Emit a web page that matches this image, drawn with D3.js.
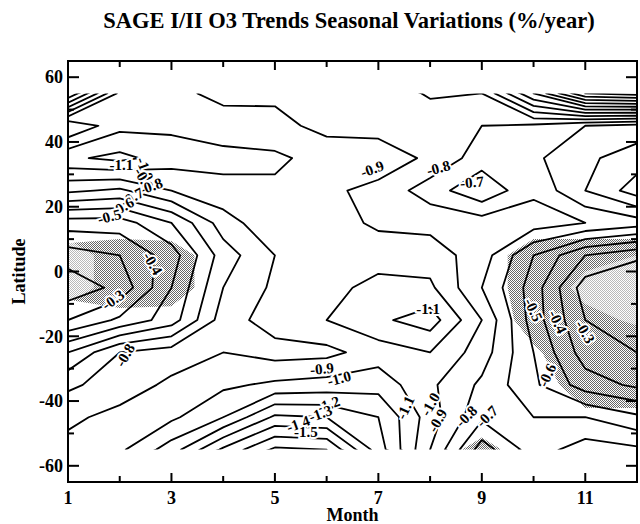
<!DOCTYPE html>
<html>
<head>
<meta charset="utf-8">
<script src="https://cdn.jsdelivr.net/npm/d3@7"></script>
<style>
  body { margin: 0; background: #fff; }
  text { font-family: "Liberation Serif", "Times New Roman", serif; font-weight: bold; }
</style>
</head>
<body>
<div id="chart"></div>
<script>
// grid: rows are latitude bins (north to south), columns are months 1..12
const months = d3.range(1, 13);
const latitudes = [55, 45, 35, 25, 15, 5, -5, -15, -25, -35, -45, -55];

// O3 trend, %/year
const trend = [
  [-1.50, -0.97, -0.93, -0.87, -0.88, -0.85, -0.85, -0.91, -0.90, -1.30, -1.70, -1.75],
  [-0.80, -0.97, -0.98, -0.95, -0.93, -0.87, -0.86, -0.85, -0.80, -0.78, -0.70, -0.66],
  [-1.08, -1.13, -1.05, -1.03, -1.02, -0.96, -0.96, -0.88, -0.75, -0.72, -0.62, -0.55],
  [-0.82, -0.78, -0.90, -0.97, -0.98, -0.92, -0.87, -0.75, -0.62, -0.78, -0.60, -0.45],
  [-0.45, -0.45, -0.60, -0.85, -0.98, -0.95, -0.88, -0.87, -0.85, -0.85, -0.80, -0.75],
  [-0.25, -0.30, -0.45, -0.75, -0.90, -0.98, -0.96, -0.95, -0.85, -0.60, -0.40, -0.32],
  [-0.13, -0.23, -0.50, -0.80, -0.92, -0.97, -1.03, -1.02, -0.80, -0.55, -0.25, -0.20],
  [-0.30, -0.42, -0.55, -0.85, -0.95, -1.00, -1.08, -1.15, -0.90, -0.55, -0.30, -0.25],
  [-0.60, -0.80, -0.85, -0.90, -0.86, -0.87, -0.95, -1.00, -0.85, -0.60, -0.35, -0.30],
  [-0.78, -0.85, -0.92, -0.98, -1.02, -1.04, -1.06, -0.92, -0.78, -0.62, -0.45, -0.38],
  [-0.88, -0.93, -0.98, -1.10, -1.32, -1.30, -1.20, -0.95, -0.72, -0.70, -0.70, -0.62],
  [-0.93, -0.98, -1.15, -1.42, -1.62, -1.60, -1.25, -0.90, -0.55, -0.75, -0.85, -0.82]
];

// stippled areas (1 = shaded)
const shaded = [
  [0, 0, 0, 0, 0, 0, 0, 0, 0, 0, 0, 0],
  [0, 0, 0, 0, 0, 0, 0, 0, 0, 0, 0, 0],
  [0, 0, 0, 0, 0, 0, 0, 0, 0, 0, 0, 0],
  [0, 0, 0, 0, 0, 0, 0, 0, 0, 0, 0, 0],
  [0, 0, 0, 0, 0, 0, 0, 0, 0, 0, 0, 0],
  [0.8, 1, 0.9, 0, 0, 0, 0, 0, 0, 1, 1, 1],
  [0.8, 1, 0.9, 0, 0, 0, 0, 0, 0, 1, 1, 1],
  [0, 0.2, 0.2, 0, 0, 0, 0, 0, 0, 0.8, 1, 1],
  [0, 0, 0, 0, 0, 0, 0, 0, 0, 0.4, 1, 1],
  [0, 0, 0, 0, 0, 0, 0, 0, 0, 0, 1, 1],
  [0, 0, 0, 0, 0, 0, 0, 0, 0, 0, 0.3, 0.3],
  [0, 0, 0, 0, 0, 0, 0, 0, 0.8, 0, 0, 0]
];

// parts of the shaded areas where the stipple is faint
const faint = [
  [0, 0, 0, 0, 0, 0, 0, 0, 0, 0, 0, 0],
  [0, 0, 0, 0, 0, 0, 0, 0, 0, 0, 0, 0],
  [0, 0, 0, 0, 0, 0, 0, 0, 0, 0, 0, 0],
  [0, 0, 0, 0, 0, 0, 0, 0, 0, 0, 0, 0],
  [0, 0, 0, 0, 0, 0, 0, 0, 0, 0, 0, 0],
  [1, 0, 0, 0, 0, 0, 0, 0, 0, 0, 0.3, 0.5],
  [1, 0, 0, 0, 0, 0, 0, 0, 0, 0, 0.7, 1],
  [0, 0, 0, 0, 0, 0, 0, 0, 0, 0, 0.3, 0.6],
  [0, 0, 0, 0, 0, 0, 0, 0, 0, 0, 0, 0],
  [0, 0, 0, 0, 0, 0, 0, 0, 0, 0, 0, 0],
  [0, 0, 0, 0, 0, 0, 0, 0, 0, 0, 0, 0],
  [0, 0, 0, 0, 0, 0, 0, 0, 0, 0, 0, 0]
];

const levels = d3.range(-17, 0).map((d) => d / 10);

// contour labels: month, latitude, text, rotation
const labelMonth = [2.03, 2.49, 2.47, 2.6, 2.24, 2.05, 1.8, 6.88, 8.16, 8.81, 2.64, 1.87, 2.1, 7.96, 5.91, 6.24, 6.03, 5.88, 5.45, 5.6, 7.52, 8.0, 8.14, 8.7, 9.1, 10.26, 10.0, 10.47, 11.0];
const labelLat = [33, 31.7, 28.6, 26.4, 23, 20, 17, 31.7, 32, 27.6, 2.5, -8.7, -25.8, -11.5, -30, -33, -41, -43.8, -47, -49.4, -42, -41, -46, -44.7, -44.7, -32, -11.8, -15.5, -18.6];
const labelText = ["-1.1", "-1.0", "-0.9", "-0.8", "-0.7", "-0.6", "-0.5", "-0.9", "-0.8", "-0.7", "-0.4", "-0.3", "-0.8", "-1.1", "-0.9", "-1.0", "-1.2", "-1.3", "-1.4", "-1.5", "-1.1", "-1.0", "-0.9", "-0.8", "-0.7", "-0.6", "-0.5", "-0.4", "-0.3"];
const labelAngle = [0, 70, 60, -20, -30, -30, -15, -20, -15, -5, 60, -35, -60, 0, -5, -15, -20, -20, -20, 0, -65, -60, -60, -45, -45, -65, 65, 65, 60];

const monthTicks = [1, 3, 5, 7, 9, 11];
const latTicks = [-60, -40, -20, 0, 20, 40, 60];

const width = 640;
const height = 524;

const x = d3.scaleLinear().domain([1, 12]).range([68, 637]);
const y = d3.scaleLinear().domain([-65, 65]).range([482, 61]);

const svg = d3
  .select("#chart")
  .append("svg")
  .attr("width", width)
  .attr("height", height);

const defs = svg.append("defs");
defs
  .append("clipPath")
  .attr("id", "clip")
  .append("rect")
  .attr("x", x(months[0]))
  .attr("y", y(latitudes[0]))
  .attr("width", x(months[months.length - 1]) - x(months[0]))
  .attr("height", y(latitudes[latitudes.length - 1]) - y(latitudes[0]));

const pat = defs
  .append("pattern")
  .attr("id", "stipple")
  .attr("width", 2)
  .attr("height", 2)
  .attr("patternUnits", "userSpaceOnUse");
pat.append("rect").attr("width", 1).attr("height", 1).attr("fill", "#000");
pat.append("rect").attr("x", 1).attr("y", 1).attr("width", 1).attr("height", 1).attr("fill", "#000");

// grid coords -> screen (value i sits at i + 0.5)
const latStep = latitudes[0] - latitudes[1];
const gridToScreen = d3.geoTransform({
  point(gx, gy) {
    this.stream.point(
      x(months[0] + gx - 0.5),
      y(latitudes[0] - latStep * (gy - 0.5))
    );
  },
});
const path = d3.geoPath(gridToScreen);

const nx = months.length;
const ny = latitudes.length;
const contour = d3.contours().size([nx, ny]);

// shading
svg
  .append("g")
  .attr("clip-path", "url(#clip)")
  .selectAll("path")
  .data(contour.thresholds([0.5])(shaded.flat()))
  .join("path")
  .attr("d", path)
  .attr("fill", "url(#stipple)")
  .attr("opacity", 0.6);

svg
  .append("g")
  .attr("clip-path", "url(#clip)")
  .selectAll("path")
  .data(contour.thresholds([0.5])(faint.flat()))
  .join("path")
  .attr("d", path)
  .attr("fill", "#fff")
  .attr("opacity", 0.55);

// contour lines
const isolines = contour.thresholds(levels)(trend.flat());
svg
  .append("g")
  .attr("clip-path", "url(#clip)")
  .selectAll("path")
  .data(isolines)
  .join("path")
  .attr("d", path)
  .attr("fill", "none")
  .attr("stroke", "#000")
  .attr("stroke-width", 1.8)
  .attr("stroke-linejoin", "round")
  .attr("stroke-dasharray", (d) => (d.value > -0.15 ? "5,4" : null));

// contour labels
svg
  .append("g")
  .selectAll("text")
  .data(labelText)
  .join("text")
  .attr("transform", (d, i) => `translate(${x(labelMonth[i])},${y(labelLat[i])}) rotate(${labelAngle[i]})`)
  .attr("text-anchor", "middle")
  .attr("dy", "0.35em")
  .attr("font-size", 15)
  .attr("stroke", "#fff")
  .attr("stroke-width", 4)
  .attr("paint-order", "stroke")
  .attr("fill", "#000")
  .text((d) => d);

// frame
svg
  .append("rect")
  .attr("x", x(1))
  .attr("y", y(65))
  .attr("width", x(12) - x(1))
  .attr("height", y(-65) - y(65))
  .attr("fill", "none")
  .attr("stroke", "#000")
  .attr("stroke-width", 2);

// ticks (inward)
const axes = svg.append("g").attr("stroke", "#000").attr("stroke-width", 2);
months.forEach((m) => {
  const len = monthTicks.includes(m) ? 9 : 6;
  axes.append("line").attr("x1", x(m)).attr("x2", x(m)).attr("y1", y(-65)).attr("y2", y(-65) - len);
  axes.append("line").attr("x1", x(m)).attr("x2", x(m)).attr("y1", y(65)).attr("y2", y(65) + len);
});
d3.range(-60, 61, 10).forEach((l) => {
  const len = latTicks.includes(l) ? 11 : 6;
  axes.append("line").attr("x1", x(1)).attr("x2", x(1) + len).attr("y1", y(l)).attr("y2", y(l));
  axes.append("line").attr("x1", x(12)).attr("x2", x(12) - len).attr("y1", y(l)).attr("y2", y(l));
});

svg
  .append("g")
  .selectAll("text")
  .data(monthTicks)
  .join("text")
  .attr("x", (d) => x(d))
  .attr("y", 504)
  .attr("text-anchor", "middle")
  .attr("font-size", 18)
  .text((d) => d);

svg
  .append("g")
  .selectAll("text")
  .data(latTicks)
  .join("text")
  .attr("x", 63)
  .attr("y", (d) => y(d))
  .attr("dy", "0.35em")
  .attr("text-anchor", "end")
  .attr("font-size", 18)
  .text((d) => d);

svg
  .append("text")
  .attr("x", (x(1) + x(12)) / 2)
  .attr("y", 521)
  .attr("text-anchor", "middle")
  .attr("font-size", 18)
  .text("Month");

svg
  .append("text")
  .attr("transform", `translate(25,${y(0)}) rotate(-90)`)
  .attr("text-anchor", "middle")
  .attr("font-size", 18)
  .text("Latitude");

svg
  .append("text")
  .attr("x", 349)
  .attr("y", 28)
  .attr("text-anchor", "middle")
  .attr("font-size", 22.5)
  .text("SAGE I/II O3 Trends Seasonal Variations (%/year)");
</script>
</body>
</html>
